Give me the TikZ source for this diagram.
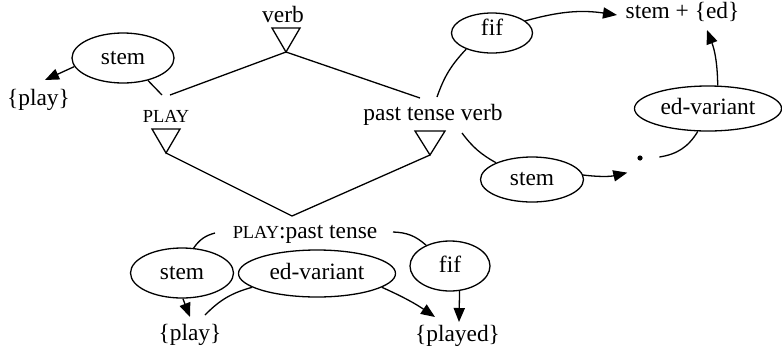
\documentclass[tikz,border=0pt]{standalone}
\usepackage{fontspec}
\setmainfont{Liberation Serif}
\usetikzlibrary{shapes.geometric,arrows.meta}
\newcommand{\smc}[1]{{\fontsize{9.2}{11}\selectfont #1}}
\begin{document}
\begin{tikzpicture}[x=0.5pt,y=-0.5pt,
  every node/.style={font=\fontsize{11.7}{14}\selectfont, inner sep=0pt},
  lbl/.style={anchor=base},
  oval/.style={draw, ellipse, line width=0.65pt, inner sep=0pt, text height=7pt, text depth=1pt},
  conn/.style={line width=0.65pt},
  arr/.style={line width=0.65pt, -{Triangle[length=7pt,width=5.6pt]}},
  tri/.style={line width=0.65pt, line join=miter}
]
\useasboundingbox (0,0) rectangle (782,349);

% tree part
\node[lbl] (verb) at (283,22) {verb};
\coordinate (vT) at (286,52);
\draw[tri] ([shift={(-14,-24)}]vT) -- ([shift={(14,-24)}]vT) -- (vT) -- cycle;

\node[lbl] (PLAY) at (166,122) {\smc{PLAY}};
\coordinate (pT) at (166,153);
\draw[tri] ([shift={(-14,-24)}]pT) -- ([shift={(14,-24)}]pT) -- (pT) -- cycle;

\node[lbl] (ptv) at (433,120) {past tense verb};
\coordinate (ptvT) at (430,155);
\draw[tri] ([shift={(-15,-24)}]ptvT) -- ([shift={(15,-24)}]ptvT) -- (ptvT) -- cycle;

\coordinate (join) at (292,216);
\node[lbl] (PLAYpt) at (305,238) {\smc{PLAY}:past tense};

% ellipses and labels
\node[oval, minimum width=51pt, minimum height=25pt] (stemA) at (123,58) {stem};
\node[lbl] (playA) at (38.5,105) {\{play\}};

\node[oval, minimum width=40.5pt, minimum height=20pt, text depth=5pt] (fifT) at (492,33) {fif};
\node[lbl] (stemed) at (682.5,18) {stem + \{ed\}};
\node[oval, minimum width=51.5pt, minimum height=22.5pt] (stemR) at (532,179.5) {stem};
\node[circle, minimum size=19pt,
      path picture={\fill (path picture bounding box.center) circle (1.3pt);}] (dot) at (640,158) {};
\node[oval, minimum width=73.5pt, minimum height=22.5pt] (edR) at (708,108.5) {ed-variant};

\node[oval, minimum width=51.5pt, minimum height=25pt] (stemB) at (182,273) {stem};
\node[oval, minimum width=78.5pt, minimum height=23.5pt] (edB) at (317,273.5) {ed-variant};
\node[oval, minimum width=40pt, minimum height=25pt] (fifB) at (450,266) {fif};
\node[lbl] (playB) at (190,340) {\{play\}};
\node[lbl] (played) at (457.5,341) {\{played\}};

% connectors
\draw[conn] (vT) -- ([shift={(4,-27)}]PLAY.base);
\draw[conn] (vT) -- ([shift={(-13,-22)}]ptv.base);
\draw[conn] (pT) -- (join);
\draw[conn] (ptvT) -- (join);

\draw[arr] (stemA.190) -- ([shift={(6.5,-25)}]playA.base);
\draw[conn] ([shift={(-4,-27)}]PLAY.base) -- (stemA.318);

\draw[conn] ([shift={(4,-23)}]ptv.base) to[bend left=12] (fifT.212);
\draw[arr] (fifT.20) to[bend left=12] ([shift={(-65.5,-3)}]stemed.base);
\draw[conn] ([shift={(29,13)}]ptv.base) to[bend right=12] (stemR.155);
\draw[arr] (stemR.5) to[bend right=10] (dot.229);
\draw[conn] (dot.3) to[bend right=25] (edR.246);
\draw[arr] (edR.67) to[bend right=10] ([shift={(24.5,12)}]stemed.base);

\draw[conn] ([shift={(-90,-5)}]PLAYpt.base) to[bend right=20] (stemB.65);
\draw[conn] ([shift={(88,-6)}]PLAYpt.base) to[bend left=20] (fifB.139);
\draw[arr] (stemB.272) -- ([shift={(0,-23)}]playB.base);
\draw[conn] ([shift={(15,-25)}]playB.base) to[bend left=15] (edB.192);
\draw[arr] (edB.348) to[bend left=5] ([shift={(-22.5,-24)}]played.base);
\draw[arr] (fifB.291) -- ([shift={(1.5,-19)}]played.base);
\end{tikzpicture}
\end{document}
